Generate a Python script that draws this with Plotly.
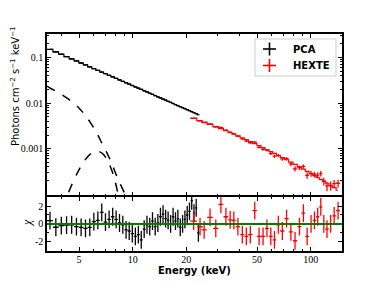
import plotly.graph_objects as go
from plotly.subplots import make_subplots

# ---------------- data ----------------
PCA_E = [3.43, 3.70, 3.97, 4.25, 4.54, 4.83, 5.13, 5.43, 5.74, 6.05, 6.37, 6.70, 7.03, 7.37, 7.72,
         8.07, 8.43, 8.80, 9.18, 9.56, 9.95, 10.35, 10.76, 11.17, 11.60, 12.03, 12.47, 12.92, 13.38,
         13.85, 14.32, 14.81, 15.31, 15.81, 16.33, 16.86, 17.39, 17.94, 18.50, 19.07, 19.65, 20.24,
         20.85, 21.46, 22.09, 22.74, 23.39]
PCA_HALFW = [0.134, 0.137, 0.140, 0.143, 0.145, 0.148, 0.151, 0.154, 0.157, 0.161, 0.164, 0.167,
             0.170, 0.174, 0.177, 0.181, 0.184, 0.188, 0.192, 0.196, 0.200, 0.204, 0.208, 0.212,
             0.216, 0.220, 0.225, 0.229, 0.234, 0.239, 0.243, 0.248, 0.253, 0.258, 0.263, 0.269,
             0.274, 0.279, 0.285, 0.291, 0.297, 0.302, 0.309, 0.315, 0.321, 0.327, 0.334]
PCA_FLUX = [0.1520, 0.1334, 0.1182, 0.1051, 0.0938, 0.0844, 0.0761, 0.0690, 0.0627, 0.0573, 0.0524,
            0.0481, 0.0443, 0.0408, 0.0377, 0.0349, 0.0324, 0.0301, 0.0280, 0.0261, 0.0244, 0.0228,
            0.0213, 0.0200, 0.0187, 0.0176, 0.0165, 0.01555, 0.01464, 0.01380, 0.01303, 0.01229,
            0.01161, 0.01099, 0.01039, 0.00984, 0.00933, 0.00884, 0.00839, 0.00796, 0.00756,
            0.00719, 0.00683, 0.00650, 0.00619, 0.00588, 0.00561]
PCA_CHI = [0.37, -0.38, -0.2, -0.15, -0.1, -0.3, -0.4, -0.5, -0.4, 0.25, 0.4, 1.3, 0.2, 0.5, 0.8,
           0.5, 0.1, -0.1, -0.67, -0.8, -1.1, -1.4, -1.2, -1.8, -0.6, -0.1, -0.3, 0.3, -0.3, 0.1,
           0.8, 1.1, 0.6, 0.4, 0.0, 0.8, 0.3, 0.6, -0.4, 0.0, 0.5, 1.0, 1.4, 2.6, 1.2, 1.8, -1.0]

HEXTE_E = [22.0, 23.9, 25.2, 27.2, 29.3, 31.3, 33.4, 35.3, 37.0, 39.0, 41.3, 43.5, 45.8, 48.5, 51.3,
           54.0, 56.8, 59.7, 62.6, 65.8, 69.3, 73.2, 77.4, 81.7, 86.5, 91.0, 95.5, 100.5, 105.0,
           109.5, 114.0, 118.5, 123.5, 129.5, 135.5, 142.5]
HEXTE_HALFW = [0.95, 0.85, 0.9, 1.0, 1.0, 1.0, 1.0, 0.9, 0.9, 1.1, 1.1, 1.1, 1.3, 1.4, 1.4, 1.4,
               1.45, 1.45, 1.55, 1.7, 1.9, 2.0, 2.1, 2.3, 2.3, 2.25, 2.4, 2.4, 2.25, 2.25, 2.25,
               2.5, 2.8, 3.0, 3.2, 3.6]
HEXTE_FLUX = [0.004672, 0.004100, 0.003759, 0.003489, 0.003007, 0.002948, 0.002548, 0.002301,
              0.002125, 0.001890, 0.001642, 0.001477, 0.001354, 0.001397, 0.001076, 0.000969,
              0.000929, 0.000787, 0.000687, 0.000710, 0.000600, 0.000604, 0.000465, 0.000363,
              0.000386, 0.000409, 0.000261, 0.000285, 0.000274, 0.000265, 0.000286, 0.000194,
              0.000153, 0.000156, 0.000172, 0.000175]
HEXTE_ERR = [0.000116, 0.000103, 0.000103, 0.0000957, 0.0000916, 0.0000881, 0.0000844, 0.0000815,
             0.0000795, 0.0000765, 0.0000744, 0.0000726, 0.0000705, 0.0000674, 0.0000654,
             0.0000635, 0.0000614, 0.0000592, 0.0000577, 0.0000558, 0.0000540, 0.0000516,
             0.0000495, 0.0000476, 0.0000452, 0.0000436, 0.0000422, 0.0000408, 0.0000400,
             0.0000393, 0.0000383, 0.0000378, 0.0000368, 0.0000359, 0.0000350, 0.0000344]
HEXTE_MODEL = [0.004637, 0.004131, 0.003828, 0.003419, 0.003053, 0.002754, 0.002481, 0.002265,
               0.002093, 0.001913, 0.001731, 0.001579, 0.001439, 0.001296, 0.001167, 0.001058,
               0.000960, 0.000870, 0.000791, 0.000716, 0.000643, 0.000573, 0.000510, 0.000453,
               0.000400, 0.000357, 0.000320, 0.000285, 0.000258, 0.000234, 0.000213, 0.000194,
               0.000175, 0.000156, 0.000140, 0.000123]
HEXTE_CHI = [0.3, -0.3, -0.67, 0.73, -0.5, 2.2, 0.8, 0.44, 0.4, -0.3, -1.2, -1.4, -1.2, 1.5, -1.4,
             -1.4, -0.5, -1.4, -1.8, -0.1, -0.8, 0.6, -0.9, -1.9, -0.3, 1.2, -1.4, 0.0, 0.4, 0.8,
             1.9, 0.0, -0.6, 0.0, 0.9, 1.5]

DISK_E = [3.30, 3.43, 3.8, 4.26, 4.8, 5.28, 5.8, 6.28, 6.7, 7.15, 7.6, 8.14, 8.6, 9.06, 9.5]
DISK_F = [0.0235, 0.0215, 0.0172, 0.0130, 0.0091, 0.0061, 0.0037, 0.0022, 0.00135, 0.00082,
          0.00049, 0.00025, 0.000155, 0.0001, 0.000063]
GAUSS_E = [4.0, 4.2, 4.6, 5.0, 5.4, 5.8, 6.3, 6.8, 7.2, 7.6, 8.0, 8.4, 8.7]
GAUSS_F = [0.000048, 0.000077, 0.000180, 0.000349, 0.000568, 0.000775, 0.00089, 0.000775,
           0.000568, 0.000349, 0.000180, 0.000077, 0.000042]

X_TICKS = [5, 10, 20, 50, 100]
Y_TICKS = [0.1, 0.01, 0.001]
CHI_TICKS = [-2, 0, 2]
LEGEND_NAMES = ["PCA", "HEXTE"]

# ---------------- layout geometry (pixels) ----------------
W, H = 380, 282
L, R, T, B = 47, 38, 34, 31
PW, PH = W - L - R, H - T - B          # plot area
DIV = 196.0                           # panel divider (px from top)
LW = 1.5                              # axis line width


def px(xp):
    return (xp - L) / PW


def py(yp):
    return (H - B - yp) / PH


# domains overlap by one line width so both divider lines coincide
TOP_DOMAIN = [py(DIV - LW / 2), 1]
BOT_DOMAIN = [0, py(DIV + LW / 2)]

fig = make_subplots(rows=2, cols=1, shared_xaxes=True, vertical_spacing=0)

BLACK = "black"
RED = "#ff0000"

# model components (dashed)
fig.add_trace(go.Scatter(x=DISK_E, y=DISK_F, mode="lines",
                         line=dict(color=BLACK, width=1.5, dash="dash", shape="spline"),
                         showlegend=False, hoverinfo="skip"), row=1, col=1)
fig.add_trace(go.Scatter(x=GAUSS_E, y=GAUSS_F, mode="lines",
                         line=dict(color=BLACK, width=1.5, dash="dash", shape="spline"),
                         showlegend=False, hoverinfo="skip"), row=1, col=1)

# PCA model step + data
fig.add_trace(go.Scatter(x=PCA_E, y=PCA_FLUX, mode="lines", line=dict(color=BLACK, width=1.2, shape="hvh"),
                         showlegend=False, hoverinfo="skip"), row=1, col=1)
fig.add_trace(go.Scatter(x=PCA_E, y=PCA_FLUX, mode="markers", marker=dict(size=1, color=BLACK),
                         error_x=dict(type="data", array=PCA_HALFW, color=BLACK, thickness=1.3, width=0),
                         error_y=dict(type="percent", value=2.0, color=BLACK, thickness=1.3, width=0),
                         showlegend=False), row=1, col=1)

# HEXTE model step + data
fig.add_trace(go.Scatter(x=HEXTE_E, y=HEXTE_MODEL, mode="lines", line=dict(color=RED, width=1.2, shape="hvh"),
                         showlegend=False, hoverinfo="skip"), row=1, col=1)
fig.add_trace(go.Scatter(x=HEXTE_E, y=HEXTE_FLUX, mode="markers", marker=dict(size=1, color=RED),
                         error_x=dict(type="data", array=HEXTE_HALFW, color=RED, thickness=1.3, width=0),
                         error_y=dict(type="data", array=HEXTE_ERR, color=RED, thickness=1.3, width=0),
                         showlegend=False), row=1, col=1)

# residuals
fig.add_trace(go.Scatter(x=PCA_E, y=PCA_CHI, mode="markers", marker=dict(size=1, color=BLACK),
                         error_x=dict(type="data", array=PCA_HALFW, color=BLACK, thickness=1.3, width=0),
                         error_y=dict(type="constant", value=1.0, color=BLACK, thickness=1.3, width=0),
                         showlegend=False), row=2, col=1)
fig.add_trace(go.Scatter(x=HEXTE_E, y=HEXTE_CHI, mode="markers", marker=dict(size=1, color=RED),
                         error_x=dict(type="data", array=HEXTE_HALFW, color=RED, thickness=1.3, width=0),
                         error_y=dict(type="constant", value=1.0, color=RED, thickness=1.3, width=0),
                         showlegend=False), row=2, col=1)

# zero line in residual panel
fig.add_shape(type="line", xref="x2 domain", yref="y2", x0=0, x1=1, y0=0, y1=0,
              line=dict(color="#008000", width=2))

SERIF = "Liberation Serif, DejaVu Serif, serif"
SANS = "DejaVu Sans, sans-serif"

xminor = [4, 6, 7, 8, 9, 30, 40, 60, 70, 80, 90]
yminor = []
for dec in [0.0001, 0.001, 0.01, 0.1]:
    for m in range(2, 10):
        yminor.append(round(dec * m, 6))

common_x = dict(type="log", range=[0.5185, 2.176], showline=True, linecolor=BLACK, linewidth=LW,
                mirror="allticks", ticks="inside", ticklen=4, tickwidth=1, tickcolor=BLACK,
                tickvals=X_TICKS, showgrid=False, zeroline=False, automargin=False,
                minor=dict(tickvals=xminor, ticks="inside", ticklen=2, tickwidth=1,
                           tickcolor=BLACK, showgrid=False))
fig.update_xaxes(**common_x, showticklabels=False, row=1, col=1)
fig.update_xaxes(**common_x, showticklabels=True, ticktext=[str(v) for v in X_TICKS],
                 tickfont=dict(family=SERIF, size=10, color=BLACK), ticklabelstandoff=-2, row=2, col=1)

fig.update_yaxes(type="log", range=[-4.02, -0.483], domain=TOP_DOMAIN, automargin=False,
                 showline=True, linecolor=BLACK, linewidth=LW,
                 mirror="allticks", ticks="inside", ticklen=4, tickwidth=1, tickcolor=BLACK,
                 tickvals=Y_TICKS, ticktext=[str(v) for v in Y_TICKS], showgrid=False, zeroline=False,
                 tickfont=dict(family=SERIF, size=10, color=BLACK),
                 minor=dict(tickvals=yminor, ticks="inside", ticklen=2, tickwidth=1,
                            tickcolor=BLACK, showgrid=False),
                 row=1, col=1)
fig.update_yaxes(range=[-3.05, 3.05], domain=BOT_DOMAIN, automargin=False,
                 showline=True, linecolor=BLACK, linewidth=LW,
                 mirror="allticks", ticks="inside", ticklen=4, tickwidth=1, tickcolor=BLACK,
                 tickvals=CHI_TICKS, ticktext=["-2", "0", "2"], showgrid=False, zeroline=False,
                 tickfont=dict(family=SERIF, size=10, color=BLACK),
                 minor=dict(tickvals=[-3, -1, 1, 3], ticks="inside", ticklen=2, tickwidth=1,
                            tickcolor=BLACK, showgrid=False),
                 row=2, col=1)

# axis titles as annotations
annotations = [
    dict(text="Photons cm<sup>−2</sup> s<sup>−1</sup> keV<sup>−1</sup>", textangle=-90,
         x=px(15), y=py(87), xref="paper", yref="paper", showarrow=False,
         xanchor="center", yanchor="middle", font=dict(family=SANS, size=10, color=BLACK)),
    dict(text="<i>χ</i>", textangle=-90, x=px(27), y=py(223), xref="paper", yref="paper",
         showarrow=False, xanchor="center", yanchor="middle", font=dict(family=SERIF, size=12, color=BLACK)),
    dict(text="<b>Energy (keV)</b>", x=px(194.5), y=py(270), xref="paper", yref="paper",
         showarrow=False, xanchor="center", yanchor="middle", font=dict(family=SANS, size=10, color=BLACK)),
]

# manual legend (box, cross glyphs, labels)
shapes = [dict(type="rect", xref="paper", yref="paper", x0=px(255), x1=px(336), y0=py(76), y1=py(39),
               line=dict(color="#cccccc", width=1), fillcolor="rgba(255,255,255,0.9)", layer="above")]
for i, (name, col) in enumerate(zip(LEGEND_NAMES, [BLACK, RED])):
    yc = 49 + 16.5 * i
    shapes.append(dict(type="line", xref="paper", yref="paper", x0=px(263), x1=px(276),
                       y0=py(yc), y1=py(yc), line=dict(color=col, width=1.6), layer="above"))
    shapes.append(dict(type="line", xref="paper", yref="paper", x0=px(269.5), x1=px(269.5),
                       y0=py(yc - 6.5), y1=py(yc + 6.5), line=dict(color=col, width=1.6), layer="above"))
    annotations.append(dict(text=f"<b>{name}</b>", x=px(291), y=py(yc), xref="paper", yref="paper",
                            showarrow=False, xanchor="left", yanchor="middle",
                            font=dict(family=SANS, size=10, color=BLACK)))

fig.update_layout(
    width=W, height=H,
    margin=dict(l=L, r=R, t=T, b=B, autoexpand=False),
    paper_bgcolor="white", plot_bgcolor="white",
    showlegend=False,
    annotations=annotations,
)
for s in shapes:
    fig.add_shape(**s)

fig.write_html("out.html", config={"displayModeBar": False},
               post_script="document.body.style.margin='0';")
